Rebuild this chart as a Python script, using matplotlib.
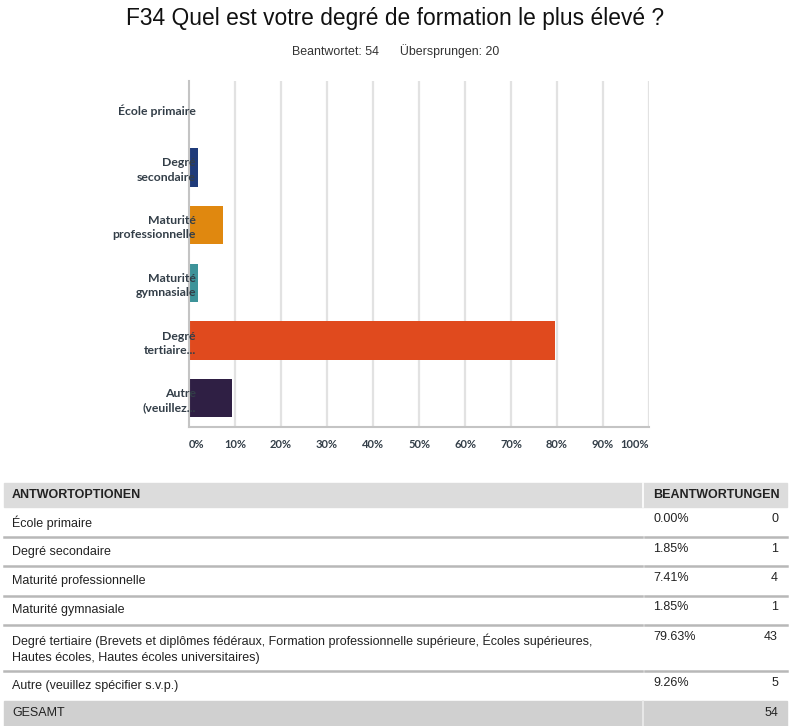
import matplotlib
matplotlib.use("Agg")
import matplotlib.pyplot as plt
from matplotlib.patches import Rectangle

# Daten
kategorien = ["École primaire", "Degré\nsecondaire", "Maturité\nprofessionnelle",
              "Maturité\ngymnasiale", "Degré\ntertiaire...", "Autre\n(veuillez..."]
optionen = ["École primaire", "Degré secondaire", "Maturité professionnelle",
            "Maturité gymnasiale",
            "Degré tertiaire (Brevets et diplômes fédéraux, Formation professionnelle supérieure, Écoles supérieures,\nHautes écoles, Hautes écoles universitaires)",
            "Autre (veuillez spécifier s.v.p.)"]
prozente = [0.00, 1.85, 7.41, 1.85, 79.63, 9.26]
anzahl = [0, 1, 4, 1, 43, 5]
farben = ["#1f3b7a", "#1f3b7a", "#e0880f", "#3d9399", "#e04a1e", "#2f1f44"]
ticks = [0, 10, 20, 30, 40, 50, 60, 70, 80, 90, 100]
titel = "F34 Quel est votre degré de formation le plus élevé ?"
untertitel = "Beantwortet: 54      Übersprungen: 20"
gesamt = 54

W, H = 791, 726
fig = plt.figure(figsize=(W / 100, H / 100), dpi=100)

# Titel
fig.text(0.5, 1 - 18 / H, titel, ha="center", va="center", fontsize=16.4,
         family="Liberation Sans", color="#111111")
fig.text(0.5, 1 - 51 / H, untertitel, ha="center", va="center", fontsize=8.9,
         family="Liberation Sans", color="#333333")

# Balkendiagramm
ax = fig.add_axes([189 / W, 1 - 427 / H, 460 / W, 346 / H])
ax.set_axisbelow(False)
y = list(range(len(kategorien)))
for t in ticks[1:]:
    ax.axvline(t, color="#e2e2e2", linewidth=1.6, zorder=1)
ax.barh(y, prozente, height=0.67, color=farben, zorder=2)
ax.set_ylim(len(kategorien) - 0.5, -0.5)
ax.set_xlim(0, 100)
ax.set_xticks(ticks)
ax.set_xticklabels([f"{t}%" for t in ticks], fontsize=8, family="Lato",
                   fontweight="bold", color="#333e48")
tl = ax.get_xticklabels()
tl[0].set_ha("left")
tl[-1].set_ha("right")
ax.tick_params(axis="x", length=0, pad=9)
ax.set_yticks(y)
ax.set_yticklabels(kategorien, fontsize=8.8, family="Lato", fontweight="bold",
                   color="#333e48", linespacing=1.35)
ax.tick_params(axis="y", length=0, pad=-5)
for s in ["top", "right"]:
    ax.spines[s].set_visible(False)
for s in ["left", "bottom"]:
    ax.spines[s].set_color("#c4c4c4")
    ax.spines[s].set_linewidth(1.5)

# Tabelle
tab = fig.add_axes([0, 0, 1, 1])
tab.set_xlim(0, W)
tab.set_ylim(H, 0)
tab.axis("off")
links, rechts, teiler = 4, 787, 643
fs = 9
tab.add_patch(Rectangle((links, 483), rechts - links, 24, color="#dcdcdc", zorder=1))
tab.plot([teiler, teiler], [483, 507], color="white", lw=1.2, zorder=2)
tab.text(12, 495.5, "ANTWORTOPTIONEN", fontsize=fs, fontweight="bold",
         family="Liberation Sans", va="center", color="#222222")
tab.text(653, 495.5, "BEANTWORTUNGEN", fontsize=fs, fontweight="bold",
         family="Liberation Sans", va="center", color="#222222")

oben = 507
for i, text in enumerate(optionen):
    zeilen = text.count("\n") + 1
    hoehe = 29.5 + 16.5 * (zeilen - 1)
    tab.text(12, oben + 9, text, fontsize=fs, family="Liberation Sans",
             va="top", color="#222222", linespacing=1.4)
    tab.text(653, oben + 6, f"{prozente[i]:.2f}%", fontsize=fs,
             family="Liberation Sans", va="top", color="#222222")
    tab.text(778, oben + 6, str(anzahl[i]), fontsize=fs,
             family="Liberation Sans", va="top", ha="right", color="#222222")
    oben += hoehe
    if i < len(optionen) - 1:
        tab.plot([links, teiler - 1], [oben, oben], color="#b8b8b8", lw=1.8, zorder=2)
        tab.plot([teiler + 2, rechts], [oben, oben], color="#b8b8b8", lw=1.8, zorder=2)

tab.add_patch(Rectangle((links, oben), rechts - links, H - oben, color="#d0d0d0", zorder=1))
tab.plot([teiler, teiler], [oben, H], color="#ececec", lw=1.2, zorder=2)
tab.text(12, (oben + H) / 2, "GESAMT", fontsize=fs, family="Liberation Sans",
         va="center", color="#222222")
tab.text(778, (oben + H) / 2, str(gesamt), fontsize=fs, family="Liberation Sans",
         va="center", ha="right", color="#222222")

fig.savefig("out.png", dpi=100)
